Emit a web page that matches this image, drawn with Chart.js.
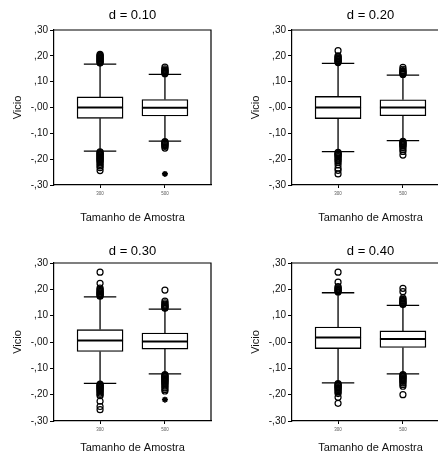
<!DOCTYPE html>
<html>
<head>
<meta charset="utf-8">
<script src="https://cdn.jsdelivr.net/npm/chart.js@4"></script>
<style>
  html, body { margin: 0; padding: 0; background: #fff; }
  #wrap { position: relative; width: 438px; height: 460px; overflow: hidden; }
  canvas { position: absolute; }
</style>
</head>
<body>
<div id="wrap">
  <canvas id="c1" width="219" height="230" style="left:0;top:0"></canvas>
  <canvas id="c2" width="219" height="230" style="left:238px;top:0"></canvas>
  <canvas id="c3" width="219" height="230" style="left:0;top:230px"></canvas>
  <canvas id="c4" width="219" height="230" style="left:238px;top:230px"></canvas>
</div>
<script>
const panelTitles = ['d = 0.10', 'd = 0.20', 'd = 0.30', 'd = 0.40'];
const sampleSizes = ['300', '500'];
const yTickLabels = ['-,30', '-,20', '-,10', '-,00', ',10', ',20', ',30'];

// box stats, one row per panel: [n=300, n=500]
const whiskerLow  = [[-0.169, -0.130], [-0.171, -0.128], [-0.157, -0.121], [-0.155, -0.121]];
const q1          = [[-0.042, -0.033], [-0.043, -0.032], [-0.036, -0.027], [-0.025, -0.021]];
const median      = [[ 0.000, -0.001], [ 0.000,  0.000], [ 0.006,  0.002], [ 0.017,  0.011]];
const q3          = [[ 0.041,  0.031], [ 0.043,  0.030], [ 0.047,  0.034], [ 0.057,  0.042]];
const whiskerHigh = [[ 0.168,  0.128], [ 0.171,  0.125], [ 0.171,  0.125], [ 0.187,  0.139]];

// outliers (circles) per panel
const outliers300 = [
  [0.172, 0.175, 0.178, 0.181, 0.184, 0.187, 0.190, 0.193, 0.196, 0.199, 0.202, 0.206,
   -0.172, -0.175, -0.178, -0.181, -0.184, -0.187, -0.190, -0.193, -0.196, -0.199, -0.202,
   -0.205, -0.209, -0.214, -0.220, -0.226, -0.233, -0.244],
  [0.174, 0.177, 0.180, 0.183, 0.186, 0.189, 0.192, 0.196, 0.200, 0.220,
   -0.174, -0.177, -0.180, -0.183, -0.186, -0.190, -0.195, -0.200, -0.206, -0.212,
   -0.222, -0.235, -0.243, -0.257],
  [0.174, 0.177, 0.180, 0.183, 0.186, 0.189, 0.192, 0.196, 0.200, 0.205, 0.223, 0.265,
   -0.160, -0.163, -0.166, -0.169, -0.172, -0.175, -0.178, -0.181, -0.185, -0.189,
   -0.194, -0.199, -0.204, -0.225, -0.245, -0.257],
  [0.190, 0.193, 0.196, 0.199, 0.202, 0.206, 0.210, 0.227, 0.265,
   -0.158, -0.161, -0.164, -0.167, -0.170, -0.173, -0.176, -0.180, -0.185, -0.190,
   -0.196, -0.210, -0.233]
];
const outliers500 = [
  [0.131, 0.134, 0.137, 0.140, 0.143, 0.146, 0.150, 0.156,
   -0.132, -0.135, -0.138, -0.141, -0.144, -0.147, -0.151, -0.157],
  [0.128, 0.131, 0.134, 0.137, 0.140, 0.143, 0.148, 0.155,
   -0.131, -0.134, -0.137, -0.140, -0.143, -0.146, -0.150, -0.155, -0.163, -0.170, -0.184],
  [0.128, 0.131, 0.134, 0.137, 0.140, 0.144, 0.149, 0.155, 0.197,
   -0.124, -0.127, -0.130, -0.133, -0.136, -0.139, -0.142, -0.145, -0.148, -0.151,
   -0.155, -0.159, -0.163, -0.168, -0.174, -0.180, -0.186],
  [0.142, 0.145, 0.148, 0.151, 0.154, 0.158, 0.162, 0.167, 0.191, 0.204,
   -0.124, -0.127, -0.130, -0.133, -0.136, -0.139, -0.142, -0.146, -0.150, -0.155,
   -0.161, -0.168, -0.200]
];
// extremes (stars)
const extremes300 = [[], [], [], []];
const extremes500 = [[-0.257], [], [-0.219], []];

const FONT = "'Liberation Sans', Arial, sans-serif";
Chart.defaults.font.family = FONT;
Chart.defaults.color = '#111';

// whiskers + caps under the boxes, median on top, frame round the plot
const boxParts = {
  id: 'boxParts',
  beforeDatasetsDraw(chart, args, opts) {
    const { ctx, scales: { x, y } } = chart;
    const p = opts.panel;
    ctx.save();
    ctx.strokeStyle = '#000';
    ctx.lineWidth = 1.3;
    sampleSizes.forEach((s, j) => {
      const xc = x.getPixelForValue(j + 1);
      const half = x.getPixelForValue(j + 1 + opts.capHalf) - xc;
      ctx.beginPath();
      ctx.moveTo(xc, y.getPixelForValue(q3[p][j]));
      ctx.lineTo(xc, y.getPixelForValue(whiskerHigh[p][j]));
      ctx.moveTo(xc, y.getPixelForValue(q1[p][j]));
      ctx.lineTo(xc, y.getPixelForValue(whiskerLow[p][j]));
      ctx.moveTo(xc - half, y.getPixelForValue(whiskerHigh[p][j]));
      ctx.lineTo(xc + half, y.getPixelForValue(whiskerHigh[p][j]));
      ctx.moveTo(xc - half, y.getPixelForValue(whiskerLow[p][j]));
      ctx.lineTo(xc + half, y.getPixelForValue(whiskerLow[p][j]));
      ctx.stroke();
    });
    ctx.restore();
  },
  afterDatasetsDraw(chart, args, opts) {
    const { ctx, chartArea, scales: { y } } = chart;
    const p = opts.panel;
    ctx.save();
    ctx.strokeStyle = '#000';
    ctx.lineWidth = 2;
    chart.getDatasetMeta(0).data.forEach((bar, j) => {
      const ym = y.getPixelForValue(median[p][j]);
      ctx.beginPath();
      ctx.moveTo(bar.x - bar.width / 2, ym);
      ctx.lineTo(bar.x + bar.width / 2, ym);
      ctx.stroke();
    });
    ctx.lineWidth = 1.2;
    ctx.beginPath();
    ctx.moveTo(chartArea.left, chartArea.top);
    ctx.lineTo(chartArea.right, chartArea.top);
    ctx.lineTo(chartArea.right, chartArea.bottom);
    ctx.stroke();
    ctx.restore();
  }
};

function makePanel(id, p, top) {
  const xAxisHeight = top ? 45 : 39;
  return new Chart(document.getElementById(id), {
    data: {
      datasets: [
        {
          type: 'bar',
          data: sampleSizes.map((s, j) => ({ x: j + 1, y: [q1[p][j], q3[p][j]] })),
          backgroundColor: '#fff',
          borderColor: '#000',
          borderWidth: 1.4,
          borderSkipped: false,
          barThickness: 46
        },
        {
          type: 'scatter',
          data: outliers300[p].map(v => ({ x: 1, y: v }))
            .concat(outliers500[p].map(v => ({ x: 2, y: v }))),
          pointStyle: 'circle',
          pointRadius: 3,
          borderWidth: 1.2,
          borderColor: '#000',
          backgroundColor: 'rgba(0,0,0,0)'
        },
        {
          type: 'scatter',
          data: extremes300[p].map(v => ({ x: 1, y: v }))
            .concat(extremes500[p].map(v => ({ x: 2, y: v }))),
          pointStyle: 'star',
          pointRadius: 3,
          borderWidth: 1.6,
          borderColor: '#000',
          backgroundColor: '#000'
        }
      ]
    },
    options: {
      responsive: false,
      animation: false,
      layout: { padding: { top: 0, right: 8, left: 0, bottom: 0 } },
      plugins: {
        legend: { display: false },
        tooltip: { enabled: false },
        title: {
          display: true,
          text: panelTitles[p],
          fullSize: false,
          color: '#000',
          font: { size: 13, weight: 'normal' },
          padding: top ? { top: 7.2, bottom: 7.2 } : { top: 13.2, bottom: 4.2 }
        },
        boxParts: { panel: p, capHalf: 0.25 }
      },
      scales: {
        x: {
          type: 'linear',
          offset: false,
          min: 0.29,
          max: 2.71,
          afterBuildTicks: (scale) => { scale.ticks = sampleSizes.map((s, j) => ({ value: j + 1 })); },
          afterFit: (scale) => { scale.height = xAxisHeight; },
          grid: { drawOnChartArea: false, offset: false, tickLength: 3, tickColor: '#000' },
          border: { color: '#000', width: 1.2 },
          ticks: {
            callback: (v, i) => sampleSizes[i],
            font: { size: 4.5 },
            color: '#555',
            padding: 3,
            maxRotation: 0
          },
          title: {
            display: true,
            text: 'Tamanho de Amostra',
            color: '#111',
            font: { size: 11 },
            padding: { top: 0, bottom: 5.4 }
          }
        },
        y: {
          min: -0.3,
          max: 0.3,
          afterFit: (scale) => { scale.width = 54; },
          grid: { drawOnChartArea: false, tickLength: 4, tickColor: '#000' },
          border: { color: '#000', width: 1.2 },
          ticks: {
            stepSize: 0.1,
            callback: (v, i) => yTickLabels[i],
            font: { size: 10 },
            color: '#111',
            padding: 2
          },
          title: {
            display: true,
            text: 'Vicio',
            color: '#111',
            font: { size: 11 },
            padding: { top: 11.4, bottom: 0 }
          }
        }
      }
    },
    plugins: [boxParts]
  });
}

makePanel('c1', 0, true);
makePanel('c2', 1, true);
makePanel('c3', 2, false);
makePanel('c4', 3, false);
</script>
</body>
</html>
